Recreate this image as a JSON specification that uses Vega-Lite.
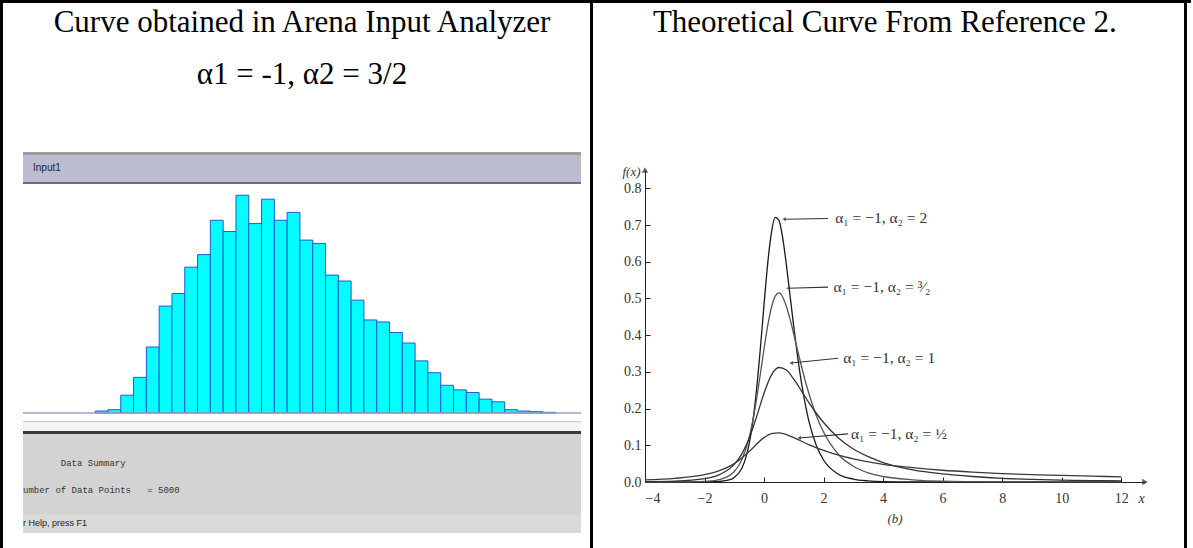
{
  "$schema": "https://vega.github.io/schema/vega-lite/v6.json",
  "padding": 0,
  "background": "#ffffff",
  "spacing": 0,
  "config": {
    "view": {"stroke": null},
    "concat": {"spacing": 0},
    "title": {"font": "Liberation Serif", "fontWeight": "normal", "color": "#000000"}
  },
  "vconcat": [
    {"width": 1191, "height": 3, "data": {"values": []}, "mark": "text", "encoding": {}, "view": {"fill": "#000000", "stroke": null}},
    {
      "spacing": 0,
      "hconcat": [
        {"width": 3, "height": 545, "data": {"values": []}, "mark": "text", "encoding": {}, "view": {"fill": "#000000", "stroke": null}},
        {"width": 19, "height": 1, "data": {"values": []}, "mark": "text", "encoding": {}},
        {
          "spacing": 0,
          "vconcat": [
            {"width": 1, "height": 4, "data": {"values": []}, "mark": "text", "encoding": {}},
            {
              "spacing": 0,
              "title": {"text": "Curve obtained in Arena Input Analyzer", "subtitle": "α1 = -1, α2 = 3/2", "fontSize": 31,
                        "subtitleFont": "Liberation Serif", "subtitleFontSize": 31, "subtitleColor": "#000000", "subtitlePadding": 21,
                        "anchor": "middle", "offset": 61},
              "vconcat": [
                {"width": 558, "height": 3, "data": {"values": []}, "mark": "text", "encoding": {}, "view": {"fill": "#9c9c9c", "stroke": null}},
                {"width": 558, "height": 27, "data": {"values": []}, "mark": "text", "encoding": {}, "view": {"fill": "#bcbccf", "stroke": null},
                 "title": {"text": "Input1", "anchor": "start", "frame": "group", "offset": -18, "dx": 10, "font": "Liberation Sans", "fontSize": 10, "color": "#1c1c3c"}},
                {"width": 558, "height": 2, "data": {"values": []}, "mark": "text", "encoding": {}, "view": {"fill": "#6c6c80", "stroke": null}},
                {
                  "width": 558, "height": 229,
                  "view": {"fill": "#ffffff", "stroke": null},
                  "layer": [
                    {
                      "data": {"values": [
                        {"bin": 1, "count": 3}, {"bin": 2, "count": 5}, {"bin": 3, "count": 27}, {"bin": 4, "count": 54},
                        {"bin": 5, "count": 100}, {"bin": 6, "count": 162}, {"bin": 7, "count": 181}, {"bin": 8, "count": 221},
                        {"bin": 9, "count": 240}, {"bin": 10, "count": 292}, {"bin": 11, "count": 275}, {"bin": 12, "count": 330},
                        {"bin": 13, "count": 287}, {"bin": 14, "count": 324}, {"bin": 15, "count": 292}, {"bin": 16, "count": 304},
                        {"bin": 17, "count": 262}, {"bin": 18, "count": 257}, {"bin": 19, "count": 209}, {"bin": 20, "count": 200},
                        {"bin": 21, "count": 171}, {"bin": 22, "count": 141}, {"bin": 23, "count": 138}, {"bin": 24, "count": 122},
                        {"bin": 25, "count": 106}, {"bin": 26, "count": 79}, {"bin": 27, "count": 61}, {"bin": 28, "count": 42},
                        {"bin": 29, "count": 35}, {"bin": 30, "count": 31}, {"bin": 31, "count": 21}, {"bin": 32, "count": 17},
                        {"bin": 33, "count": 5}, {"bin": 34, "count": 3}, {"bin": 35, "count": 2}, {"bin": 36, "count": 1}
                      ]},
                      "mark": {"type": "bar", "fill": "#00ffff", "stroke": "#2458d8", "strokeWidth": 1, "binSpacing": 0},
                      "encoding": {
                        "x": {"field": "bin", "type": "quantitative", "bin": {"binned": true, "step": 1}, "scale": {"domain": [-4.6, 39], "nice": false, "zero": false}, "axis": null},
                        "y": {"field": "count", "type": "quantitative", "scale": {"domain": [0, 347], "nice": false}, "axis": null}
                      }
                    },
                    {
                      "data": {"values": [{}]},
                      "mark": {"type": "rule", "color": "#98a0c8", "strokeWidth": 1.5},
                      "encoding": {"y": {"datum": 0}}
                    }
                  ]
                },
                {"width": 558, "height": 7, "data": {"values": []}, "mark": "text", "encoding": {}, "view": {"fill": "#ffffff", "stroke": null}},
                {"width": 558, "height": 1, "data": {"values": []}, "mark": "text", "encoding": {}, "view": {"fill": "#c8c8c8", "stroke": null}},
                {"width": 558, "height": 9, "data": {"values": []}, "mark": "text", "encoding": {}, "view": {"fill": "#f4f4f4", "stroke": null}},
                {"width": 558, "height": 3, "data": {"values": []}, "mark": "text", "encoding": {}, "view": {"fill": "#3a3a3a", "stroke": null}},
                {"width": 558, "height": 81, "data": {"values": []}, "mark": "text", "encoding": {}, "view": {"fill": "#d3d3d3", "stroke": null},
                 "title": {"text": ["\u200b\u00a0\u00a0\u00a0\u00a0\u00a0\u00a0\u00a0Data Summary", "umber of Data Points\u00a0\u00a0\u00a0=\u00a05000"], "anchor": "start", "frame": "group", "offset": -61, "lineHeight": 27, "font": "Liberation Mono", "fontSize": 9, "color": "#333333"}},
                {"width": 558, "height": 18, "data": {"values": []}, "mark": "text", "encoding": {}, "view": {"fill": "#d9d9d9", "stroke": null},
                 "title": {"text": "r Help, press F1", "anchor": "start", "frame": "group", "offset": -13, "font": "Liberation Sans", "fontSize": 9, "color": "#222222"}}
              ]
            }
          ]
        },
        {"width": 8, "height": 1, "data": {"values": []}, "mark": "text", "encoding": {}},
        {"width": 3, "height": 545, "data": {"values": []}, "mark": "text", "encoding": {}, "view": {"fill": "#000000", "stroke": null}},
        {"width": 28, "height": 1, "data": {"values": []}, "mark": "text", "encoding": {}},
        {
          "spacing": 0,
          "vconcat": [
            {"width": 1, "height": 4, "data": {"values": []}, "mark": "text", "encoding": {}},
            {
              "spacing": 0,
              "title": {"text": "Theoretical Curve From Reference 2.", "fontSize": 31, "anchor": "middle", "offset": 126},
              "vconcat": [
                {
                  "width": 500, "height": 312,
                  "title": {"text": "(b)", "orient": "bottom", "fontSize": 13, "fontStyle": "italic", "offset": 8, "color": "#333333"},
                  "encoding": {
                    "x": {"field": "x", "type": "quantitative",
                          "scale": {"domain": [-4, 12.8], "nice": false, "zero": false},
                          "axis": {"values": [-4, -2, 0, 2, 4, 6, 8, 10, 12], "format": "d", "grid": false, "labelOverlap": false,
                                   "title": "x", "titleX": 496, "titleY": 16, "titleAlign": "center", "titleBaseline": "middle",
                                   "titleFont": "Liberation Serif", "titleFontStyle": "italic", "titleFontWeight": "normal", "titleFontSize": 14, "titleColor": "#333333",
                                   "tickSize": -5, "labelPadding": 14, "domainColor": "#222222", "tickColor": "#222222",
                                   "labelFont": "Liberation Serif", "labelFontSize": 14, "labelColor": "#333333"}},
                    "y": {"field": "y", "type": "quantitative",
                          "scale": {"domain": [0, 0.85], "nice": false},
                          "axis": {"values": [0, 0.1, 0.2, 0.3, 0.4, 0.5, 0.6, 0.7, 0.8], "format": ".1f", "grid": false, "labelOverlap": false,
                                   "title": "f(x)", "titleAngle": 0, "titleX": -5, "titleY": 1, "titleAlign": "right", "titleBaseline": "middle",
                                   "titleFont": "Liberation Serif", "titleFontStyle": "italic", "titleFontWeight": "normal", "titleFontSize": 13, "titleColor": "#333333",
                                   "tickSize": -5, "labelPadding": 9, "domainColor": "#222222", "tickColor": "#222222",
                                   "labelFont": "Liberation Serif", "labelFontSize": 14, "labelColor": "#333333"}}
                  },
                  "layer": [
                    {
                      "data": {"values": [
                        {"curve": "2", "x": -4, "y": 0}, {"curve": "2", "x": -3, "y": 0}, {"curve": "2", "x": -2, "y": 0.0002},
                        {"curve": "2", "x": -1.5, "y": 0.0014}, {"curve": "2", "x": -1.25, "y": 0.0041}, {"curve": "2", "x": -1, "y": 0.0124},
                        {"curve": "2", "x": -0.75, "y": 0.037}, {"curve": "2", "x": -0.625, "y": 0.0629}, {"curve": "2", "x": -0.5, "y": 0.104},
                        {"curve": "2", "x": -0.375, "y": 0.1662}, {"curve": "2", "x": -0.25, "y": 0.253}, {"curve": "2", "x": -0.125, "y": 0.3628},
                        {"curve": "2", "x": 0, "y": 0.484}, {"curve": "2", "x": 0.125, "y": 0.597}, {"curve": "2", "x": 0.25, "y": 0.681},
                        {"curve": "2", "x": 0.375, "y": 0.721}, {"curve": "2", "x": 0.5, "y": 0.713}, {"curve": "2", "x": 0.625, "y": 0.666},
                        {"curve": "2", "x": 0.75, "y": 0.592}, {"curve": "2", "x": 0.875, "y": 0.507}, {"curve": "2", "x": 1, "y": 0.422},
                        {"curve": "2", "x": 1.125, "y": 0.343}, {"curve": "2", "x": 1.25, "y": 0.274}, {"curve": "2", "x": 1.375, "y": 0.216},
                        {"curve": "2", "x": 1.5, "y": 0.168}, {"curve": "2", "x": 1.75, "y": 0.101}, {"curve": "2", "x": 2, "y": 0.06},
                        {"curve": "2", "x": 2.5, "y": 0.021}, {"curve": "2", "x": 3, "y": 0.008}, {"curve": "2", "x": 3.5, "y": 0.003},
                        {"curve": "2", "x": 4, "y": 0.001}, {"curve": "2", "x": 5, "y": 0}, {"curve": "2", "x": 12, "y": 0},

                        {"curve": "3/2", "x": -4, "y": 0}, {"curve": "3/2", "x": -3, "y": 0.0002}, {"curve": "3/2", "x": -2, "y": 0.0018},
                        {"curve": "3/2", "x": -1.5, "y": 0.0067}, {"curve": "3/2", "x": -1, "y": 0.0286}, {"curve": "3/2", "x": -0.75, "y": 0.0598},
                        {"curve": "3/2", "x": -0.5, "y": 0.1215}, {"curve": "3/2", "x": -0.375, "y": 0.1685}, {"curve": "3/2", "x": -0.25, "y": 0.2267},
                        {"curve": "3/2", "x": -0.125, "y": 0.2936}, {"curve": "3/2", "x": 0, "y": 0.363}, {"curve": "3/2", "x": 0.125, "y": 0.4267},
                        {"curve": "3/2", "x": 0.25, "y": 0.476}, {"curve": "3/2", "x": 0.375, "y": 0.5064}, {"curve": "3/2", "x": 0.5, "y": 0.515},
                        {"curve": "3/2", "x": 0.625, "y": 0.504}, {"curve": "3/2", "x": 0.75, "y": 0.478}, {"curve": "3/2", "x": 0.875, "y": 0.443},
                        {"curve": "3/2", "x": 1, "y": 0.402}, {"curve": "3/2", "x": 1.125, "y": 0.359}, {"curve": "3/2", "x": 1.25, "y": 0.318},
                        {"curve": "3/2", "x": 1.375, "y": 0.278}, {"curve": "3/2", "x": 1.5, "y": 0.243}, {"curve": "3/2", "x": 1.75, "y": 0.182},
                        {"curve": "3/2", "x": 2, "y": 0.136}, {"curve": "3/2", "x": 2.5, "y": 0.075}, {"curve": "3/2", "x": 3, "y": 0.043},
                        {"curve": "3/2", "x": 3.5, "y": 0.025}, {"curve": "3/2", "x": 4, "y": 0.015}, {"curve": "3/2", "x": 5, "y": 0.006},
                        {"curve": "3/2", "x": 6, "y": 0.002}, {"curve": "3/2", "x": 7, "y": 0.001}, {"curve": "3/2", "x": 8, "y": 0.0005},
                        {"curve": "3/2", "x": 10, "y": 0.0002}, {"curve": "3/2", "x": 12, "y": 0.0001},

                        {"curve": "1", "x": -4, "y": 0.0008}, {"curve": "1", "x": -3, "y": 0.0024}, {"curve": "1", "x": -2, "y": 0.009},
                        {"curve": "1", "x": -1.5, "y": 0.02}, {"curve": "1", "x": -1, "y": 0.048}, {"curve": "1", "x": -0.75, "y": 0.076},
                        {"curve": "1", "x": -0.5, "y": 0.119}, {"curve": "1", "x": -0.25, "y": 0.178}, {"curve": "1", "x": 0, "y": 0.242},
                        {"curve": "1", "x": 0.25, "y": 0.292}, {"curve": "1", "x": 0.5, "y": 0.312}, {"curve": "1", "x": 0.75, "y": 0.305},
                        {"curve": "1", "x": 1, "y": 0.28}, {"curve": "1", "x": 1.25, "y": 0.249}, {"curve": "1", "x": 1.5, "y": 0.217},
                        {"curve": "1", "x": 1.75, "y": 0.188}, {"curve": "1", "x": 2, "y": 0.162}, {"curve": "1", "x": 2.5, "y": 0.12},
                        {"curve": "1", "x": 3, "y": 0.09}, {"curve": "1", "x": 3.5, "y": 0.069}, {"curve": "1", "x": 4, "y": 0.053},
                        {"curve": "1", "x": 5, "y": 0.033}, {"curve": "1", "x": 6, "y": 0.022}, {"curve": "1", "x": 7, "y": 0.015},
                        {"curve": "1", "x": 8, "y": 0.01}, {"curve": "1", "x": 9, "y": 0.007}, {"curve": "1", "x": 10, "y": 0.005},
                        {"curve": "1", "x": 11, "y": 0.004}, {"curve": "1", "x": 12, "y": 0.003},

                        {"curve": "1/2", "x": -4, "y": 0.006}, {"curve": "1/2", "x": -3, "y": 0.01}, {"curve": "1/2", "x": -2, "y": 0.02},
                        {"curve": "1/2", "x": -1.5, "y": 0.031}, {"curve": "1/2", "x": -1, "y": 0.05}, {"curve": "1/2", "x": -0.5, "y": 0.083},
                        {"curve": "1/2", "x": 0, "y": 0.121}, {"curve": "1/2", "x": 0.25, "y": 0.132}, {"curve": "1/2", "x": 0.5, "y": 0.134},
                        {"curve": "1/2", "x": 0.75, "y": 0.129}, {"curve": "1/2", "x": 1, "y": 0.121}, {"curve": "1/2", "x": 1.5, "y": 0.102},
                        {"curve": "1/2", "x": 2, "y": 0.086}, {"curve": "1/2", "x": 2.5, "y": 0.073}, {"curve": "1/2", "x": 3, "y": 0.063},
                        {"curve": "1/2", "x": 4, "y": 0.048}, {"curve": "1/2", "x": 5, "y": 0.039}, {"curve": "1/2", "x": 6, "y": 0.032},
                        {"curve": "1/2", "x": 7, "y": 0.027}, {"curve": "1/2", "x": 8, "y": 0.023}, {"curve": "1/2", "x": 9, "y": 0.02},
                        {"curve": "1/2", "x": 10, "y": 0.018}, {"curve": "1/2", "x": 11, "y": 0.016}, {"curve": "1/2", "x": 12, "y": 0.014}
                      ]},
                      "mark": {"type": "line", "interpolate": "monotone", "strokeWidth": 1.3},
                      "encoding": {
                        "detail": {"field": "curve", "type": "nominal"},
                        "color": {"field": "curve", "type": "nominal", "scale": {"domain": ["2", "3/2", "1", "1/2"], "range": ["#1a1a1a", "#555555", "#333333", "#3a3a3a"]}, "legend": null}
                      }
                    },
                    {
                      "data": {"values": [
                        {"x": 0.67, "y": 0.716, "x2": 2.15, "y2": 0.718},
                        {"x": 0.81, "y": 0.528, "x2": 2.15, "y2": 0.531},
                        {"x": 0.91, "y": 0.324, "x2": 2.49, "y2": 0.337},
                        {"x": 1.18, "y": 0.12, "x2": 2.82, "y2": 0.131}
                      ]},
                      "layer": [
                        {"mark": {"type": "rule", "color": "#333333", "strokeWidth": 1.1},
                         "encoding": {"x2": {"field": "x2"}, "y2": {"field": "y2"}}},
                        {"mark": {"type": "point", "shape": "triangle-left", "filled": true, "color": "#333333", "size": 18}}
                      ]
                    },
                    {
                      "data": {"values": [
                        {"x": 2.39, "y": 0.718, "label": "α₁ = −1, α₂ = 2"},
                        {"x": 2.33, "y": 0.531, "label": "α₁ = −1, α₂ = ³⁄₂"},
                        {"x": 2.66, "y": 0.337, "label": "α₁ = −1, α₂ = 1"},
                        {"x": 2.92, "y": 0.131, "label": "α₁ = −1, α₂ = ½"}
                      ]},
                      "mark": {"type": "text", "align": "left", "baseline": "middle", "font": "Liberation Serif", "fontSize": 15.5, "color": "#333333"},
                      "encoding": {"text": {"field": "label"}}
                    },
                    {
                      "data": {"values": [{"x": -4, "y": 0.85}]},
                      "mark": {"type": "point", "shape": "triangle-up", "filled": true, "color": "#222222", "size": 40}
                    },
                    {
                      "data": {"values": [{"x": 12.8, "y": 0}]},
                      "mark": {"type": "point", "shape": "triangle-right", "filled": true, "color": "#222222", "size": 40}
                    }
                  ]
                }
              ]
            }
          ]
        },
        {"width": 36, "height": 1, "data": {"values": []}, "mark": "text", "encoding": {}},
        {"width": 3, "height": 545, "data": {"values": []}, "mark": "text", "encoding": {}, "view": {"fill": "#000000", "stroke": null}}
      ]
    }
  ]
}
